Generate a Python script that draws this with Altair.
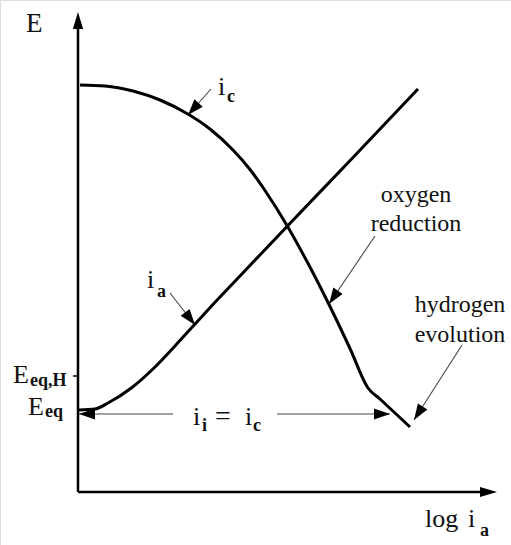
import math
import altair as alt
import pandas as pd

# Polarisation curves, E versus log i (arbitrary units, origin at the axes corner)
ic_x = [2, 27, 55, 82, 109, 132, 155, 172, 187, 209, 229, 252, 272, 290, 302, 332]
ic_y = [407, 406, 401, 392, 378.5, 363, 342, 322.5, 301.5, 266.5, 230.5, 185.5, 143.5, 104, 93, 65]
ia_x = [1, 17, 30, 54, 77, 97, 117, 134, 162, 209, 275, 340]
ia_y = [82, 83, 89, 104.5, 125, 146, 168, 186.5, 216, 265.5, 334.5, 403]

# Axes (line end and arrow tip)
axis_end_x = [0, 410]
axis_end_y = [470, 0]
axis_tip_x = [0, 419]
axis_tip_y = [480, 0]

# Leader arrows: start -> tip
lead_x0 = [133, 92, 297, 384, 95, 199]
lead_y0 = [403, 199, 256, 147, 78, 78]
lead_x1 = [110, 117, 251, 336, 1, 312]
lead_y1 = [377, 167, 188, 72, 78, 78]

# Tick for E_eq,H
tick_y = [116]

# Text pieces: main glyphs (left edge, baseline)
main_text = ["E", "i", "i", "i", "=", "i", "E", "E", "log", "i"]
main_x = [-52, 140, 69, 115, 137, 167, -65, -50, 347, 390]
main_y = [460, 397, 204, 67, 67, 67, 109, 77, -35, -35]
main_size = [27, 26, 26, 26, 28, 26, 26, 26, 26, 26]

# Subscripts
sub_text = ["c", "a", "i", "c", "eq,H", "eq", "a"]
sub_x = [149, 79, 124, 175, -48, -33, 402]
sub_y = [390, 195, 61, 61, 106, 75, -44]

# Curve labels (centre, baseline)
note_text = ["oxygen", "reduction", "hydrogen", "evolution"]
note_x = [338, 338, 382, 382]
note_y = [290, 261, 180, 150]

FONT = "Liberation Serif"
xs = alt.Scale(domain=[-78, 433], nice=False, zero=False)
ys = alt.Scale(domain=[-53, 492], nice=False, zero=False)
X = lambda f: alt.X(f, type="quantitative", scale=xs, axis=None)
Y = lambda f: alt.Y(f, type="quantitative", scale=ys, axis=None)


def heads(x0, y0, x1, y1, length):
    rows = []
    for a, b, c, d in zip(x0, y0, x1, y1):
        dx, dy = c - a, d - b
        n = math.hypot(dx, dy)
        ux, uy = dx / n, dy / n
        rows.append({
            "hx": c - ux * length / 2,
            "hy": d - uy * length / 2,
            "rot": math.degrees(math.atan2(ux, uy)) % 360,
        })
    return pd.DataFrame(rows)


ic = pd.DataFrame({"x": ic_x, "y": ic_y})
ia = pd.DataFrame({"x": ia_x, "y": ia_y})

curve_ic = alt.Chart(ic).mark_line(color="black", strokeWidth=3, interpolate="monotone").encode(
    x=X("x"), y=Y("y"), order="x:Q")
curve_ia = alt.Chart(ia).mark_line(color="black", strokeWidth=3, interpolate="monotone").encode(
    x=X("x"), y=Y("y"), order="x:Q")

axes_df = pd.DataFrame({"x0": [0, 0], "y0": [0, 0], "x1": axis_end_x, "y1": axis_end_y})
axes = alt.Chart(axes_df).mark_rule(color="black", strokeWidth=2.5).encode(
    x=X("x0"), y=Y("y0"), x2="x1", y2="y1")

axis_heads = alt.Chart(heads([0, 0], [0, 0], axis_tip_x, axis_tip_y, 17)).mark_point(
    shape="M0,-1L0.6,1L-0.6,1Z", size=289, filled=True, fill="black", opacity=1).encode(
    x=X("hx"), y=Y("hy"), angle=alt.Angle("rot:Q", scale=None))

lead_heads = alt.Chart(heads(lead_x0, lead_y0, lead_x1, lead_y1, 16)).mark_point(
    shape="M0,-1L0.7,1L-0.7,1Z", size=256, filled=True, fill="black", opacity=1).encode(
    x=X("hx"), y=Y("hy"), angle=alt.Angle("rot:Q", scale=None))

lead_df = pd.DataFrame({"x0": lead_x0, "y0": lead_y0, "x1": lead_x1, "y1": lead_y1})
leaders = alt.Chart(lead_df).mark_rule(color="#444444", strokeWidth=1.1).encode(
    x=X("x0"), y=Y("y0"), x2="x1", y2="y1")

tick = alt.Chart(pd.DataFrame({"y": tick_y})).mark_rule(color="black", strokeWidth=1.5).encode(
    x=alt.value(73), x2=alt.value(79), y=Y("y"))

main_df = pd.DataFrame({"t": main_text, "x": main_x, "y": main_y, "fs": main_size})
main = alt.Chart(main_df).mark_text(font=FONT, align="left", baseline="alphabetic", color="#111111").encode(
    x=X("x"), y=Y("y"), text="t:N", size=alt.Size("fs:Q", scale=None))

sub_df = pd.DataFrame({"t": sub_text, "x": sub_x, "y": sub_y})
subs = alt.Chart(sub_df).mark_text(font=FONT, align="left", baseline="alphabetic", fontSize=18,
                                   fontWeight="bold", color="#111111").encode(
    x=X("x"), y=Y("y"), text="t:N")

note_df = pd.DataFrame({"t": note_text, "x": note_x, "y": note_y})
notes = alt.Chart(note_df).mark_text(font=FONT, align="center", baseline="alphabetic", fontSize=24,
                                     color="#111111").encode(
    x=X("x"), y=Y("y"), text="t:N")

chart = alt.layer(
    axes, tick, leaders, curve_ic, curve_ia, main, subs, notes, axis_heads, lead_heads
).properties(
    width=511, height=545, padding=0, autosize="none"
).configure_view(strokeWidth=0).configure(background="white")

chart.save("out.html", embed_options={"renderer": "svg", "actions": False})
